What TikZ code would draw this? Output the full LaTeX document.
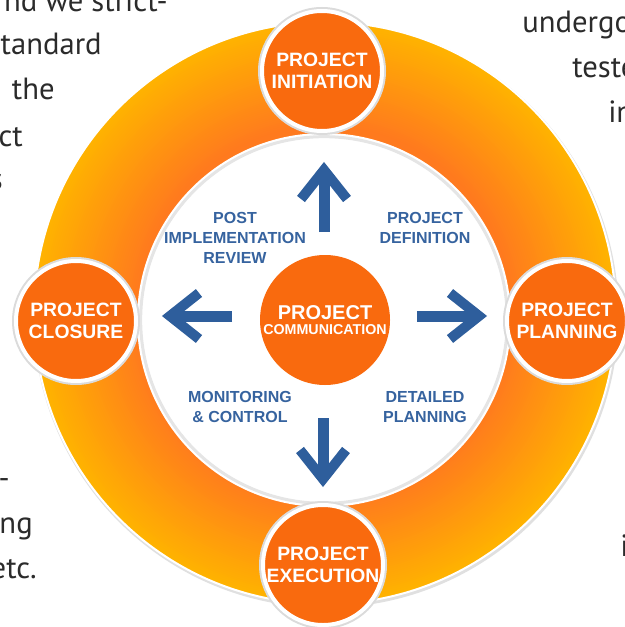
\documentclass[tikz,border=0pt]{standalone}
\usepackage{fontspec}
\setmainfont{Liberation Sans}
\newfontfamily\bodyfont{PT Sans}
\usetikzlibrary{calc}
\definecolor{nodeor}{HTML}{F96A0E}
\definecolor{ringor}{HTML}{FF7A1E}
\definecolor{ringye}{HTML}{FFB300}
\definecolor{arrblue}{HTML}{2E5E9C}
\definecolor{lblblue}{HTML}{36639F}
\definecolor{bodytext}{HTML}{2B2B2B}
\tikzset{
  bodytxt/.style={font=\bodyfont\fontsize{23}{28}\selectfont, text=bodytext, inner sep=0pt},
  outernode/.style={circle, fill=nodeor, draw=white, line width=3pt, minimum size=90pt, inner sep=0pt,
    preaction={draw=black!14, line width=6pt},
    text=white, align=center, font=\bfseries\fontsize{14.5}{16.5}\selectfont},
  centernode/.style={circle, fill=nodeor, minimum size=97.5pt, inner sep=0pt, text=white, align=center},
  lbl/.style={text=lblblue, align=center, inner sep=0pt, font=\bfseries\fontsize{12}{14.8}\selectfont},
  shaft/.style={draw=arrblue, line width=8.25pt, line cap=butt},
  chev/.style={draw=arrblue, line width=7.5pt, line join=miter, line cap=butt}
}
\begin{document}
\begin{tikzpicture}[x=0.75pt,y=-0.75pt]
\useasboundingbox (0,0) rectangle (624,627);
\fill[white] (0,0) rectangle (624,627);

% surrounding body text fragments
\node[bodytxt, anchor=base east] (b1) at (168,12) {nd we strict-};
\node[bodytxt, anchor=base east] (b2) at (102,55) {tandard};
\node[bodytxt, anchor=base east] (b3) at (55,100) {the};
\node[bodytxt, anchor=base east] (b4) at (23,147) {ct};
\node[bodytxt, anchor=base east] (b5) at (3,190) {s};
\node[bodytxt, anchor=base east] (b6) at (10,488) {-};
\node[bodytxt, anchor=base east] (b7) at (33,533) {ng};
\node[bodytxt, anchor=base east] (b8) at (37,578) {etc.};
\node[bodytxt, anchor=base west] (r1) at (522,33) {undergo};
\node[bodytxt, anchor=base west] (r2) at (572,78) {teste};
\node[bodytxt, anchor=base west] (r3) at (608,123) {in};
\node[bodytxt, anchor=base west] (r4) at (620,556) {i};

% ring (radial gradient built from concentric discs)
\coordinate (rc) at (325,313);
\coordinate (ic) at (324,320);
\fill[black!12] ($(rc)+(1,2)$) circle[radius=219.5pt];
\foreach \i in {0,...,52} {
  \pgfmathsetmacro\rr{(291-2*\i)*0.75}
  \pgfmathsetmacro\pp{100-\i*100/52}
  \fill[ringye!\pp!ringor] (rc) circle[radius=\rr pt];
}
\draw[white, line width=1.5pt] (rc) circle[radius=218.25pt];
\fill[white] (ic) circle[radius=140.25pt];
\draw[black!10, line width=2.25pt] (ic) circle[radius=137.5pt];
\fill[white] (ic) circle[radius=136pt];

% outer nodes
\node[outernode] (init) at (322,71) {PROJECT\\INITIATION};
\node[outernode] (plan) at (567,321) {PROJECT\\PLANNING};
\node[outernode] (exec) at (323,565) {PROJECT\\EXECUTION};
\node[outernode] (clos) at (76,321) {PROJECT\\CLOSURE};

% centre node
\node[centernode] (comm) at (325,320) {{\bfseries\fontsize{15}{18}\selectfont PROJECT}\\[-1pt]{\bfseries\fontsize{10.7}{12}\selectfont COMMUNICATION}};

% phase labels
\node[lbl] (pir) at (235,238) {POST\\IMPLEMENTATION\\REVIEW};
\node[lbl] (pdef) at (425,228) {PROJECT\\DEFINITION};
\node[lbl] (mc) at (240,407) {MONITORING\\\& CONTROL};
\node[lbl] (dp) at (425,407) {DETAILED\\PLANNING};

% arrows
\coordinate (upS) at (324,232); \coordinate (upT) at (324,170);
\coordinate (dnS) at (323,418); \coordinate (dnT) at (323,479);
\coordinate (lfS) at (232,316); \coordinate (lfT) at (170,316);
\coordinate (rtS) at (417,316); \coordinate (rtT) at (479,316);
\draw[shaft] (upS) -- (upT);
\draw[chev] (upT) ++(-23,29) -- (upT) -- ++(23,29);
\draw[shaft] (dnS) -- (dnT);
\draw[chev] (dnT) ++(-23,-29) -- (dnT) -- ++(23,-29);
\draw[shaft] (lfS) -- (lfT);
\draw[chev] (lfT) ++(29,-23) -- (lfT) -- ++(29,23);
\draw[shaft] (rtS) -- (rtT);
\draw[chev] (rtT) ++(-29,-23) -- (rtT) -- ++(-29,23);
\end{tikzpicture}
\end{document}
